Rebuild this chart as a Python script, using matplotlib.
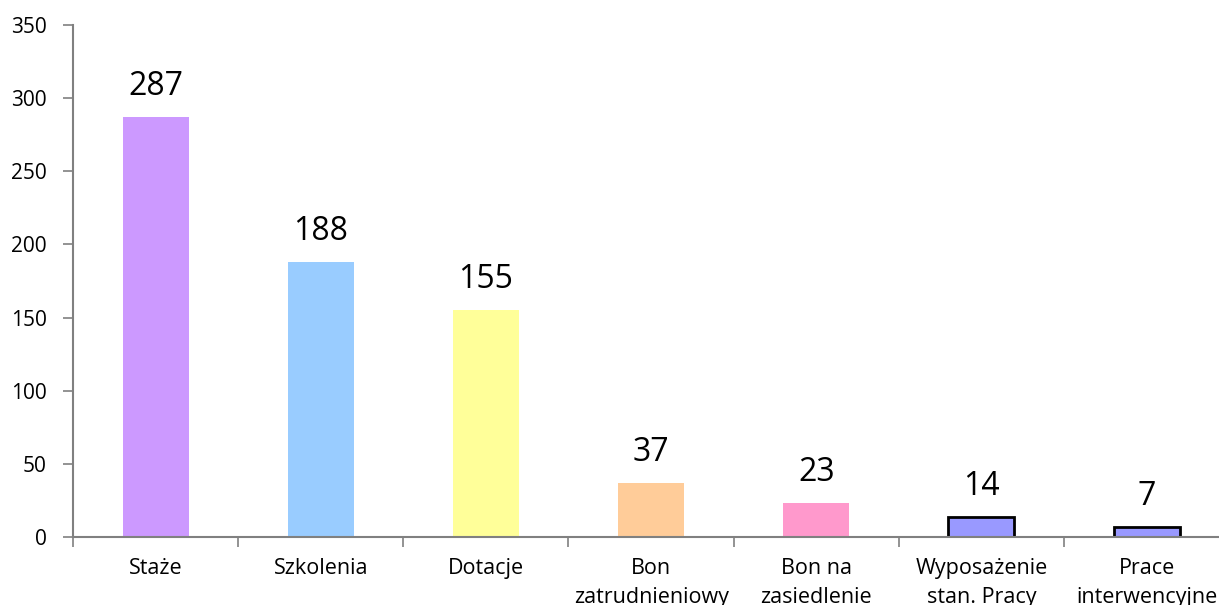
import numpy as np
import matplotlib.pyplot as plt

plt.rcParams['font.family'] = ['Open Sans', 'DejaVu Sans']

# Liczba osób objętych formami aktywizacji
kategorie = ['Staże', 'Szkolenia', 'Dotacje', 'Bon\nzatrudnieniowy',
             'Bon na\nzasiedlenie', 'Wyposażenie\nstan. Pracy', 'Prace\ninterwencyjne']
wartosci = [287, 188, 155, 37, 23, 14, 7]
kolory = ['#CC99FF', '#99CCFF', '#FFFF99', '#FFCC99', '#FF99CC', '#9999FF', '#9999FF']
obramowanie = [None, None, None, None, None, 'black', 'black']

fig = plt.figure(figsize=(12.19, 6.05), dpi=100)
ax = fig.add_axes([0.0599, 0.1124, 0.9484, 0.8463])

x = np.arange(len(kategorie))
for xi, v, c, e in zip(x, wartosci, kolory, obramowanie):
    if e:
        ax.bar(xi, v, width=0.4, color=c, edgecolor=e, linewidth=2)
    else:
        ax.bar(xi, v, width=0.4, color=c, linewidth=0)
    ax.annotate(str(v), (xi, v), xytext=(0, 10), textcoords='offset points',
                ha='center', va='bottom', fontsize=23)

ax.set_xlim(-0.5, len(kategorie) - 0.5)
ax.set_ylim(0, 350)
ax.set_yticks(np.arange(0, 351, 50))

# etykiety pod środkiem słupków, kreski na granicach kategorii
ax.set_xticks(np.arange(-0.5, len(kategorie), 1.0))
ax.set_xticklabels([])
ax.set_xticks(x, minor=True)
ax.set_xticklabels(kategorie, minor=True, fontsize=15.5, linespacing=1.5, va='top')
ax.tick_params(axis='x', which='minor', length=0, pad=15)
ax.tick_params(axis='x', which='major', length=7, color='#808080', width=1.2)
ax.tick_params(axis='y', length=7, color='#808080', width=1.2, labelsize=15, pad=12)

for s in ['top', 'right']:
    ax.spines[s].set_visible(False)
for s in ['left', 'bottom']:
    ax.spines[s].set_color('#808080')
    ax.spines[s].set_linewidth(1.5)

fig.savefig('out.png', dpi=100)
